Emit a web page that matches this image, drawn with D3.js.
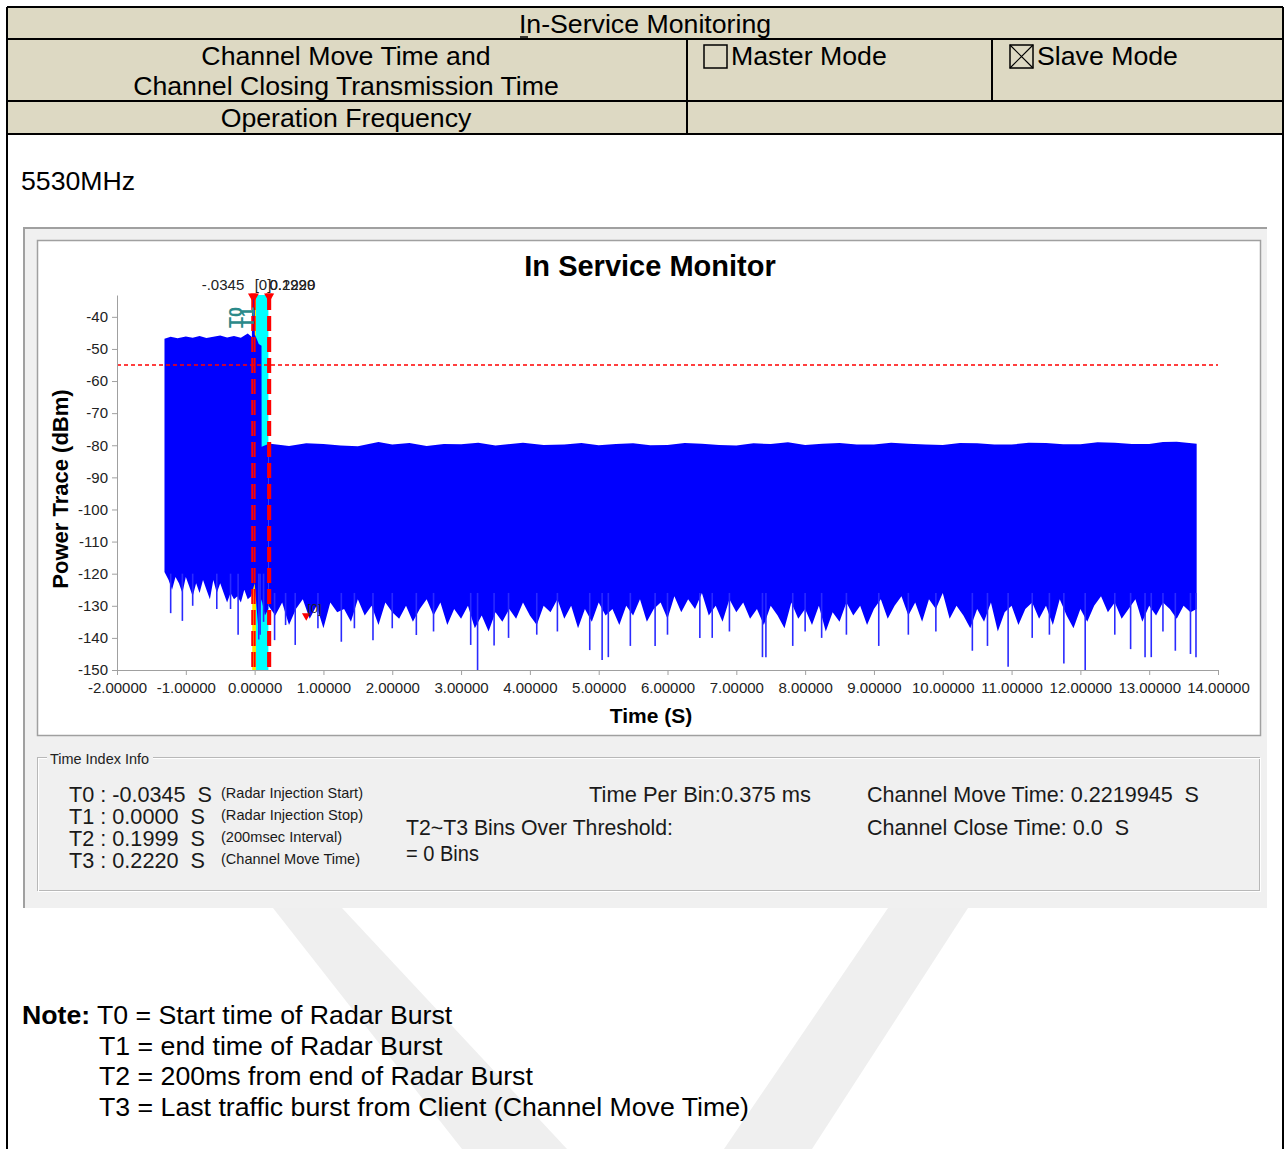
<!DOCTYPE html>
<html>
<head>
<meta charset="utf-8">
<script src="https://cdn.jsdelivr.net/npm/d3@7"></script>
<style>
body { margin: 0; background: #fff; }
svg text { font-family: "Liberation Sans", Arial, sans-serif; white-space: pre; }
</style>
</head>
<body>
<script>
// ---- data ----
var markerNames = ["T0", "T1", "T2", "T3"];
var markerTimes = [-0.0345, 0, 0.1999, 0.2220];
var markerLabels = ["-.0345", "[0]", "0.1999", "0.2220"];
var threshold = -55;          // dBm, red dashed line

var xTicks = [-2, -1, 0, 1, 2, 3, 4, 5, 6, 7, 8, 9, 10, 11, 12, 13, 14];
var yTicks = [-150, -140, -130, -120, -110, -100, -90, -80, -70, -60, -50, -40];

// trace before / around the burst: upper envelope [time s, dBm]
var preHigh = [[-1.31, -46.8], [-1.22, -46.2], [-1.12, -46.7], [-1.0, -46.1], [-0.9, -46.5],
    [-0.8, -46.0], [-0.7, -46.6], [-0.6, -46.2], [-0.5, -45.8], [-0.4, -46.4], [-0.3, -46.0],
    [-0.2, -46.5], [-0.1, -45.2], [-0.04, -46.3], [-0.0345, -25], [0, -25], [0.002, -45.5],
    [0.03, -46.8], [0.06, -48.5], [0.1, -49], [0.102, -80.5], [0.2, -79.6]];
// lower envelope
var preLow = [[-1.31, -119.5], [-1.25, -122], [-1.20, -125], [-1.15, -121], [-1.10, -123],
    [-1.05, -126], [-1.00, -121], [-0.95, -124], [-0.90, -127], [-0.85, -123], [-0.80, -126],
    [-0.75, -122], [-0.70, -125], [-0.65, -128], [-0.60, -122], [-0.55, -126], [-0.50, -123],
    [-0.45, -126], [-0.40, -129], [-0.35, -126], [-0.30, -128], [-0.25, -127], [-0.20, -129],
    [-0.15, -125], [-0.10, -128], [-0.05, -127], [0.00, -123], [0.05, -136], [0.10, -128],
    [0.15, -133], [0.20, -131]];

// trace after the move: upper envelope
var postHigh = [[0.2, -80.5], [0.23, -79.5], [0.5, -80.2], [0.75, -79.4], [1.0, -79.6], [1.25, -80.1],
    [1.5, -80.3], [1.8, -79.0], [2.0, -79.8], [2.25, -79.3], [2.5, -80.2], [2.75, -79.6], [3.0, -79.7],
    [3.25, -79.2], [3.5, -80.1], [3.9, -79.2], [4.2, -79.9], [4.5, -79.8], [4.75, -79.3], [5.0, -80.0],
    [5.25, -79.6], [5.5, -79.4], [5.75, -80.0], [6.0, -79.9], [6.25, -79.3], [6.5, -79.5], [6.75, -79.9],
    [7.0, -80.1], [7.25, -79.4], [7.5, -79.6], [7.75, -79.1], [8.0, -79.9], [8.25, -79.5], [8.5, -79.3],
    [8.75, -79.8], [9.0, -79.8], [9.25, -79.2], [9.5, -79.5], [9.75, -79.8], [10.0, -79.9],
    [10.25, -79.3], [10.5, -79.4], [10.75, -79.8], [11.0, -79.8], [11.25, -79.2], [11.5, -79.3],
    [11.75, -79.7], [12.0, -79.7], [12.25, -79.1], [12.5, -79.2], [12.75, -79.6], [13.0, -79.6],
    [13.2, -79.0], [13.4, -78.9], [13.69, -79.5]];
// lower envelope, one value per 0.1 s bin starting at 0.3 s
var postLowStart = 0.3, postLowStep = 0.1, postEnd = 13.69;
var postLow = [
    -133, -129, -136, -131, -128, -134, -130, -137, -129, -132,
    -131, -135, -128, -133, -130, -136, -129, -132, -134, -130,
    -135, -131, -128, -133, -129, -136, -131, -134, -130, -137,
    -133, -138, -132, -135, -131, -134, -129, -133, -136, -130,
    -132, -128, -134, -130, -137, -131, -135, -129, -133, -131,
    -136, -130, -133, -128, -135, -131, -129, -134, -127, -132,
    -128, -131, -126, -133, -130, -135, -128, -132, -129, -134,
    -131, -136, -130, -133, -137, -129, -134, -131, -136, -130,
    -138, -132, -135, -129, -133, -130, -136, -131, -128, -134,
    -130, -127, -133, -129, -135, -128, -131, -126, -134, -130,
    -133, -137, -131, -135, -129, -138, -132, -130, -136, -131,
    -129, -134, -130, -136, -128, -133, -137, -131, -135, -130,
    -127, -132, -129, -134, -131, -128, -135, -130, -133, -129,
    -131, -134, -130, -132];

// deep single-bin dips [time s, dBm]
var preDips = [[-1.22, -132.3], [-1.05, -134.7], [-0.9, -130], [-0.55, -131], [-0.35, -131],
    [-0.24, -139], [0.06, -140.5], [0.08, -139], [0.13, -135]];
var postDips = [[0.29, -140.7], [0.45, -136], [0.59, -142.2], [0.92, -137], [1.26, -141.2],
    [1.45, -137], [1.72, -140.7], [2.0, -137], [2.35, -139.1], [2.6, -138], [3.14, -142.2],
    [3.24, -150], [3.48, -142.4], [3.69, -140], [4.1, -139], [4.4, -138], [4.87, -143.8],
    [5.05, -146.9], [5.14, -146], [5.46, -142.5], [5.82, -142.5], [6.0, -139], [6.47, -140],
    [6.65, -140], [6.9, -138], [7.38, -146], [7.43, -146], [7.82, -142.5], [8.0, -138],
    [8.24, -140], [8.6, -139], [9.07, -142.5], [9.5, -139], [9.9, -138], [10.43, -144],
    [10.65, -142.5], [10.95, -149], [11.3, -140], [11.55, -139], [11.76, -148], [12.07, -150],
    [12.5, -139], [12.73, -143.5], [12.94, -146], [13.03, -146], [13.2, -138], [13.38, -144],
    [13.60, -145], [13.68, -146]];

var peakMarker = [0.75, -133.4];   // "[0]" peak marker

// ---- page ----
var W = 1285, H = 1149;
var svg = d3.select("body").append("svg")
    .attr("width", W)
    .attr("height", H);

// watermark
svg.append("polygon").attr("points", "273,908 342,908 567,1149 462,1149").attr("fill", "#efefef");
svg.append("polygon").attr("points", "888,908 968,908 812,1149 724,1149").attr("fill", "#efefef");

// header table
svg.append("rect").attr("x", 7).attr("y", 7).attr("width", 1276).attr("height", 127).attr("fill", "#ddd9c3");
var lines = [[7, 7, 7, 1149], [1283, 7, 1283, 1149], [7, 7, 1283, 7], [7, 39, 1283, 39],
    [7, 101, 1283, 101], [7, 134, 1283, 134], [687, 39, 687, 134], [992, 39, 992, 101]];
svg.selectAll(".tline")
    .data(lines)
    .enter()
    .append("line")
    .attr("class", "tline")
    .attr("x1", function (d) { return d[0]; })
    .attr("y1", function (d) { return d[1]; })
    .attr("x2", function (d) { return d[2]; })
    .attr("y2", function (d) { return d[3]; })
    .attr("stroke", "#000")
    .attr("stroke-width", 2);

var big = 26.7;
function label(x, y, s, size, anchor) {
    return svg.append("text")
        .attr("x", x).attr("y", y)
        .attr("font-size", size)
        .attr("text-anchor", anchor || "start")
        .text(s);
}
label(645, 33, "In-Service Monitoring", big, "middle");
svg.append("line").attr("x1", 520).attr("x2", 528).attr("y1", 37).attr("y2", 37).attr("stroke", "#000").attr("stroke-width", 1.5);
label(346, 65, "Channel Move Time and", big, "middle");
label(346, 95, "Channel Closing Transmission Time", big, "middle");
label(346, 127, "Operation Frequency", big, "middle");
svg.append("rect").attr("x", 704).attr("y", 45).attr("width", 23).attr("height", 23)
    .attr("fill", "none").attr("stroke", "#000").attr("stroke-width", 1.5);
label(731, 65, "Master Mode", big);
svg.append("rect").attr("x", 1010).attr("y", 45).attr("width", 23).attr("height", 23)
    .attr("fill", "none").attr("stroke", "#000").attr("stroke-width", 1.5);
svg.append("path").attr("d", "M1010,45L1033,68M1033,45L1010,68").attr("stroke", "#000").attr("stroke-width", 1.2);
label(1037, 65, "Slave Mode", big);

label(21, 190, "5530MHz", big);

// screenshot panel
svg.append("rect").attr("x", 23).attr("y", 227).attr("width", 1244).attr("height", 681).attr("fill", "#f0f0f0");
svg.append("line").attr("x1", 23).attr("x2", 1267).attr("y1", 228).attr("y2", 228).attr("stroke", "#a0a0a0").attr("stroke-width", 2);
svg.append("line").attr("x1", 24).attr("x2", 24).attr("y1", 227).attr("y2", 908).attr("stroke", "#a0a0a0").attr("stroke-width", 2);
svg.append("rect").attr("x", 37.5).attr("y", 240.5).attr("width", 1223).attr("height", 495)
    .attr("fill", "#fff").attr("stroke", "#a0a0a0").attr("stroke-width", 1.5);

// ---- chart ----
var x = d3.scaleLinear().domain([-2, 14]).range([117, 1218]);
var y = d3.scaleLinear().domain([-150, -33.2]).range([670, 295]);

svg.append("defs").append("clipPath").attr("id", "plotclip")
    .append("rect").attr("x", 117).attr("y", 295).attr("width", 1101).attr("height", 375);

var plot = svg.append("g").attr("clip-path", "url(#plotclip)");

// T1..T2 interval highlight and burst band
plot.append("rect")
    .attr("x", x(0.02)).attr("width", x(markerTimes[2]) - x(0.02))
    .attr("y", y.range()[1]).attr("height", y.range()[0] - y.range()[1])
    .attr("fill", "#00ffff");
plot.append("rect")
    .attr("x", x(markerTimes[0])).attr("width", x(0.02) - x(markerTimes[0]))
    .attr("y", y.range()[1]).attr("height", y.range()[0] - y.range()[1])
    .attr("fill", "#ffe600");

var line = d3.line()
    .x(function (d) { return x(d[0]); })
    .y(function (d) { return y(d[1]); });

// trace bodies: upper envelope, then lower envelope back
var preBody = preHigh.concat(preLow.slice().reverse());
plot.append("path")
    .attr("d", line(preBody) + "Z")
    .attr("fill", "#0000ff");

var postLowPts = postLow.map(function (v, i) { return [postLowStart + i * postLowStep, v]; });
var postBody = postHigh.concat([[postEnd, -131]], postLowPts.slice().reverse(), [[0.2, -130]]);
plot.append("path")
    .attr("d", line(postBody) + "Z")
    .attr("fill", "#0000ff");

// single-bin dips below the body
function dips(data, base) {
    plot.append("g").selectAll("line")
        .data(data)
        .enter()
        .append("line")
        .attr("x1", function (d) { return x(d[0]); })
        .attr("x2", function (d) { return x(d[0]); })
        .attr("y1", y(base))
        .attr("y2", function (d) { return y(d[1]); })
        .attr("stroke", "#2a2aff")
        .attr("stroke-width", 1.6);
}
dips(preDips, -120);
dips(postDips, -126);

// threshold
plot.append("line")
    .attr("x1", x(-2)).attr("x2", x(14))
    .attr("y1", y(threshold)).attr("y2", y(threshold))
    .attr("stroke", "#ff0000").attr("stroke-width", 1.3)
    .attr("stroke-dasharray", "4,3");

// marker lines
plot.selectAll(".mline")
    .data(markerTimes)
    .enter()
    .append("line")
    .attr("class", "mline")
    .attr("x1", function (d) { return x(d); })
    .attr("x2", function (d) { return x(d); })
    .attr("y1", y.range()[1])
    .attr("y2", y.range()[0])
    .attr("stroke", "#ff0000")
    .attr("stroke-width", function (d, i) { return i < 2 ? 2 : 2.6; })
    .attr("stroke-dasharray", "15,6");

// teal rotated marker names
[0, 1].forEach(function (i) {
    svg.append("text")
        .attr("transform", "translate(" + (x(markerTimes[i]) - (i === 0 ? 10 : 1)) + ",328) rotate(-90)")
        .attr("font-size", 18)
        .attr("font-weight", "bold")
        .attr("fill", "#2b8a8a")
        .text(markerNames[i]);
});

// marker triangles and labels on top
var tri = d3.symbol().type(d3.symbolTriangle).size(32);
svg.selectAll(".mtri")
    .data(markerTimes)
    .enter()
    .append("path")
    .attr("class", "mtri")
    .attr("d", tri)
    .attr("transform", function (d) { return "translate(" + x(d) + ",296) rotate(180)"; })
    .attr("fill", "#ff0000");

var labelDx = [-8, 0, 1, -0.5];
svg.selectAll(".mlab")
    .data(markerLabels)
    .enter()
    .append("text")
    .attr("class", "mlab")
    .attr("x", function (d, i) { return x(markerTimes[i]) + labelDx[i]; })
    .attr("y", 290)
    .attr("text-anchor", function (d, i) { return i === 0 ? "end" : "start"; })
    .attr("font-size", 15)
    .attr("fill", "#222")
    .text(function (d) { return d; });

// peak marker
svg.append("path").attr("d", tri)
    .attr("transform", "translate(" + x(peakMarker[0]) + "," + (y(peakMarker[1]) - 1) + ") rotate(180)")
    .attr("fill", "#ff0000");
svg.append("text")
    .attr("x", x(peakMarker[0]) + 1).attr("y", y(peakMarker[1]) - 4)
    .attr("font-size", 13).attr("fill", "#222")
    .text("[0]");

// axes
var yAxis = d3.axisLeft(y).tickValues(yTicks).tickSize(5).tickPadding(4).tickSizeOuter(0)
    .tickFormat(function (d) { return String(d); });
var xAxis = d3.axisBottom(x).tickValues(xTicks).tickSize(5).tickPadding(7).tickSizeOuter(0)
    .tickFormat(function (d) { return d.toFixed(5); });

var gy = svg.append("g").attr("transform", "translate(117,0)").call(yAxis);
var gx = svg.append("g").attr("transform", "translate(0,670)").call(xAxis);
[gx, gy].forEach(function (g) {
    g.select(".domain").attr("stroke", "#a0a0a0");
    g.selectAll(".tick line").attr("stroke", "#a0a0a0");
    g.selectAll(".tick text").attr("fill", "#222").attr("font-size", 15)
        .attr("font-family", "'Liberation Sans', Arial, sans-serif");
});

svg.append("text").attr("x", 650).attr("y", 276).attr("text-anchor", "middle")
    .attr("font-size", 29).attr("font-weight", "bold").text("In Service Monitor");
svg.append("text").attr("x", 651).attr("y", 723).attr("text-anchor", "middle")
    .attr("font-size", 21).attr("font-weight", "bold").text("Time (S)");
svg.append("text").attr("transform", "translate(68,489) rotate(-90)").attr("text-anchor", "middle")
    .attr("font-size", 22).attr("font-weight", "bold").text("Power Trace (dBm)");

// ---- Time Index Info group ----
svg.append("rect").attr("x", 37.5).attr("y", 757.5).attr("width", 1222).attr("height", 133)
    .attr("fill", "none").attr("stroke", "#b8b8b8");
svg.append("rect").attr("x", 38.5).attr("y", 758.5).attr("width", 1222).attr("height", 133)
    .attr("fill", "none").attr("stroke", "#ffffff");
svg.append("rect").attr("x", 47).attr("y", 750).attr("width", 106).attr("height", 16).attr("fill", "#f0f0f0");

function fit(xp, yp, s, size, len, color) {
    return svg.append("text")
        .attr("x", xp).attr("y", yp)
        .attr("font-size", size)
        .attr("fill", color || "#1a1a1a")
        .attr("textLength", len)
        .attr("lengthAdjust", "spacingAndGlyphs")
        .text(s);
}
fit(50, 764, "Time Index Info", 14.5, 99, "#222");

var tLines = ["T0 : -0.0345  S", "T1 : 0.0000  S", "T2 : 0.1999  S", "T3 : 0.2220  S"];
var tLens = [143, 136, 136, 136];
var tNotes = ["(Radar Injection Start)", "(Radar Injection Stop)", "(200msec Interval)", "(Channel Move Time)"];
var tNoteLens = [142, 142, 121, 139];
tLines.forEach(function (s, i) {
    fit(69, 802 + i * 22, s, 21.5, tLens[i]);
    fit(221, 798 + i * 22, tNotes[i], 14.5, tNoteLens[i]);
});
fit(589, 802, "Time Per Bin:0.375 ms", 21.5, 222);
fit(406, 835, "T2~T3 Bins Over Threshold:", 21.5, 267);
fit(406, 861, "= 0 Bins", 21.5, 73);
fit(867, 802, "Channel Move Time: 0.2219945  S", 21.5, 332);
fit(867, 835, "Channel Close Time: 0.0  S", 21.5, 262);

// ---- note ----
svg.append("text").attr("x", 22).attr("y", 1024).attr("font-size", big).attr("font-weight", "bold").text("Note:");
label(97, 1024, "T0 = Start time of Radar Burst", big);
label(99, 1055, "T1 = end time of Radar Burst", big);
label(99, 1085, "T2 = 200ms from end of Radar Burst", big);
label(99, 1116, "T3 = Last traffic burst from Client (Channel Move Time)", big);
</script>
</body>
</html>
